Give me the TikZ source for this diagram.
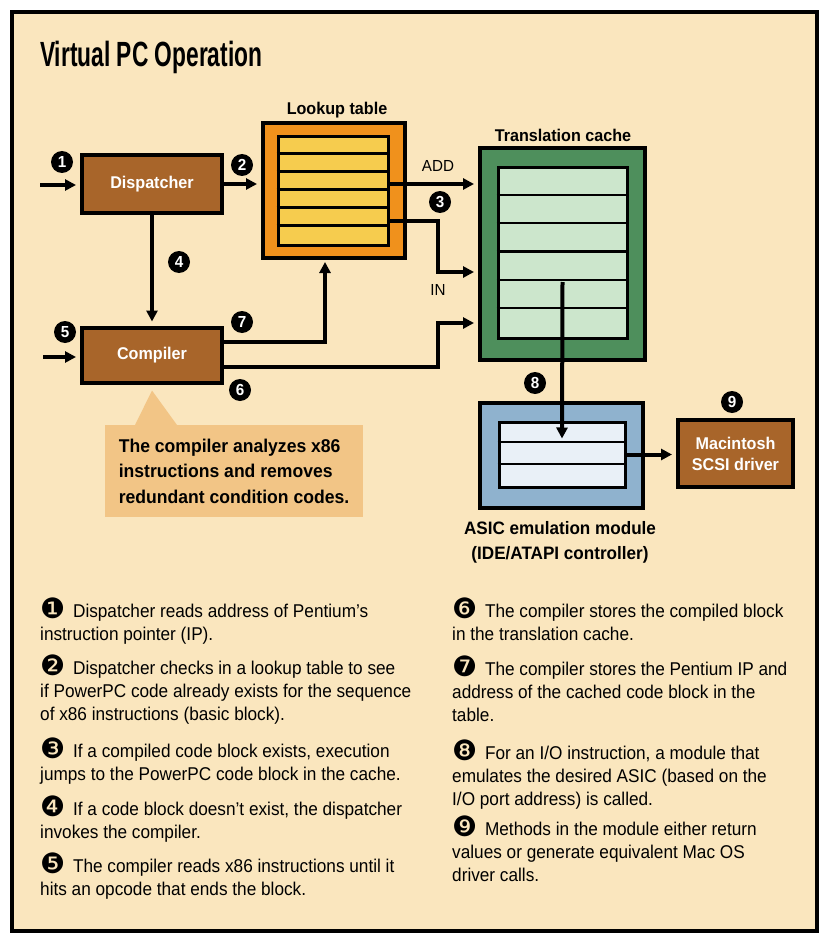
\documentclass[tikz,border=0pt]{standalone}
\usepackage{fontspec}
\setmainfont{Liberation Sans}
\newfontfamily\titlefont[FakeStretch=0.65]{Liberation Sans}
\newfontfamily\labelfont[FakeStretch=0.95]{Liberation Sans}
\newfontfamily\bodyfont[FakeStretch=0.93]{Liberation Sans}
\newfontfamily\dingfont{DejaVu Sans}
\usetikzlibrary{arrows.meta}

\definecolor{paper}{HTML}{FAE6BE}
\definecolor{boxbrown}{HTML}{A8652A}
\definecolor{tableorange}{HTML}{F0911C}
\definecolor{tablerow}{HTML}{F6CC4E}
\definecolor{cachegreen}{HTML}{4E8F5C}
\definecolor{cacherow}{HTML}{CCE6CC}
\definecolor{asicblue}{HTML}{8FB2CE}
\definecolor{asicrow}{HTML}{E9F0F7}
\definecolor{notefill}{HTML}{F2C586}

\newcommand{\fsz}[2]{\fontsize{#1}{#2}\selectfont}
\newcommand{\ball}[1]{\smash{\dingfont\fsz{28}{23}\raisebox{-1pt}{#1}}\hspace{3pt}}

\begin{document}
\begin{tikzpicture}[x=1pt, y=-1pt,
    procbox/.style={rectangle, draw=black, line width=4pt, fill=boxbrown,
                    text=white, inner sep=0pt, align=center,
                    font=\labelfont\bfseries\fsz{17}{20}},
    framebox/.style={rectangle, draw=black, line width=4pt, inner sep=0pt},
    rowbox/.style={rectangle, draw=black, line width=3pt, inner sep=0pt},
    rowline/.style={line width=2.5pt},
    num/.style={circle, fill=black, text=white, inner sep=0pt,
                minimum size=22pt, font=\labelfont\bfseries\fsz{16}{16}},
    conn/.style={->, >={Triangle[length=11pt, width=11pt]}, line width=4pt,
                 shorten >=4pt},
    hdlbl/.style={align=center, font=\labelfont\bfseries\fsz{17}{20}},
    reglbl/.style={font=\labelfont\fsz{16}{18}},
    notebox/.style={rectangle, fill=notefill, minimum width=258pt,
                    minimum height=92pt, align=left,
                    font=\labelfont\bfseries\fsz{18.5}{25.5}},
    item/.style={anchor=north west, align=left, inner sep=0pt,
                 font=\bodyfont\fsz{18.5}{23}},
]
\useasboundingbox (0,0) rectangle (829,936);

% --- Frame and title ---
\fill[white] (0,0) rectangle (829,936);
\draw[line width=4.5pt, fill=paper] (12,12) rectangle (817,931);
\node[anchor=base west, inner sep=0pt, font=\titlefont\bfseries\fsz{35}{40}] (title) at (40,67) {Virtual PC Operation};

% --- Dispatcher and compiler ---
\node[procbox, minimum width=140pt, minimum height=57pt] (disp) at (152,184) {Dispatcher};
\node[procbox, minimum width=140pt, minimum height=55pt] (comp) at (152,355) {Compiler};

% --- Lookup table ---
\node[framebox, fill=tableorange, minimum width=142pt, minimum height=135pt] (look) at (334,190.5) {};
\node[rowbox, fill=tablerow, minimum width=110pt, minimum height=108pt] (lookin) at (333,191) {};
\foreach \i in {1,...,5}
  \draw[rowline] ([yshift={-18*\i}]lookin.north west) -- ([yshift={-18*\i}]lookin.north east);
\node[hdlbl] (looklbl) at (337,110) {Lookup table};

% --- Translation cache ---
\node[framebox, fill=cachegreen, minimum width=165pt, minimum height=212pt] (cache) at (562.5,254) {};
\node[rowbox, fill=cacherow, minimum width=129pt, minimum height=170pt] (cachein) at (562.5,253) {};
\foreach \i in {1,...,5}
  \draw[rowline] ([yshift={-170/6*\i}]cachein.north west) -- ([yshift={-170/6*\i}]cachein.north east);
\node[hdlbl] (cachelbl) at (563,135) {Translation cache};

% --- ASIC emulation module ---
\node[framebox, fill=asicblue, minimum width=163pt, minimum height=105pt] (asic) at (561.5,455.5) {};
\node[rowbox, fill=asicrow, minimum width=126pt, minimum height=65pt] (asicin) at (562,454.5) {};
\foreach \i in {1,2}
  \draw[rowline] ([yshift={-65/3*\i}]asicin.north west) -- ([yshift={-65/3*\i}]asicin.north east);
\node[hdlbl, font=\labelfont\bfseries\fsz{18}{25}] (asiclbl) at (560,542) {ASIC emulation module\\(IDE/ATAPI controller)};

% --- SCSI driver ---
\node[procbox, minimum width=115pt, minimum height=67pt, font=\labelfont\bfseries\fsz{17}{21}] (mac) at (735.5,453.5) {Macintosh\\SCSI driver};

% --- Callout ---
\coordinate (tip) at ([yshift=-6]comp.south);
\fill[notefill] ([xshift=30]105,425) -- (tip) -- ([xshift=72]105,425) -- cycle;
\node[notebox] (note) at (234,471) {The compiler analyzes x86\\instructions and removes\\redundant condition codes.};

% --- Connectors ---
\coordinate (in1) at (40,185);
\coordinate (in5) at (43,357);
\coordinate (jog6) at (438,323);
\coordinate (jogin) at (438,272);
\draw[conn] (in1) -- (in1 -| disp.west);
\draw[conn] (disp.east) -- (disp.east -| look.west);
\draw[conn] (disp.south) -- (comp.north);
\draw[conn] (in5) -- (in5 -| comp.west);
\draw[conn, shorten >=2pt] ([yshift=13]comp.east) -| ([xshift=-9]look.south);
\draw[conn] ([yshift=-12]comp.east) -| (jog6) -- (jog6 -| cache.west);
\draw[conn] ([yshift=7]lookin.east) coordinate (add) -- (add -| cache.west);
\draw[conn] ([yshift=-30]lookin.east) -| (jogin) -- (jogin -| cache.west);
\draw[conn, shorten >=0pt] ([yshift=-29]cachein.center) -- ([yshift=16]asicin.center);
\draw[conn] (asicin.east) -- (asicin.east -| mac.west);

% --- Connector labels ---
\node[reglbl] (addlbl) at (438,166) {ADD};
\node[reglbl] (inlbl) at (438,290) {IN};

% --- Step numbers ---
\node[num] (n1) at (62,162) {1};
\node[num] (n2) at (242,165) {2};
\node[num] (n3) at (440,202) {3};
\node[num] (n4) at (179,262) {4};
\node[num] (n5) at (65,332) {5};
\node[num] (n6) at (240,390) {6};
\node[num] (n7) at (242,322) {7};
\node[num] (n8) at (535,383) {8};
\node[num] (n9) at (732,402) {9};

% --- Step list ---
\node[item] (t1) at (40,604) {\ball{❶} Dispatcher reads address of Pentium’s\\instruction pointer (IP).};
\node[item] (t2) at (40,661) {\ball{❷} Dispatcher checks in a lookup table to see\\if PowerPC code already exists for the sequence\\of x86 instructions (basic block).};
\node[item] (t3) at (40,744) {\ball{❸} If a compiled code block exists, execution\\jumps to the PowerPC code block in the cache.};
\node[item] (t4) at (40,802) {\ball{❹} If a code block doesn’t exist, the dispatcher\\invokes the compiler.};
\node[item] (t5) at (40,859) {\ball{❺} The compiler reads x86 instructions until it\\hits an opcode that ends the block.};
\node[item] (t6) at (452,604) {\ball{❻} The compiler stores the compiled block\\in the translation cache.};
\node[item] (t7) at (452,662) {\ball{❼} The compiler stores the Pentium IP and\\address of the cached code block in the\\table.};
\node[item] (t8) at (452,746) {\ball{❽} For an I/O instruction, a module that\\emulates the desired ASIC (based on the\\I/O port address) is called.};
\node[item] (t9) at (452,822) {\ball{❾} Methods in the module either return\\values or generate equivalent Mac OS\\driver calls.};

\end{tikzpicture}
\end{document}
